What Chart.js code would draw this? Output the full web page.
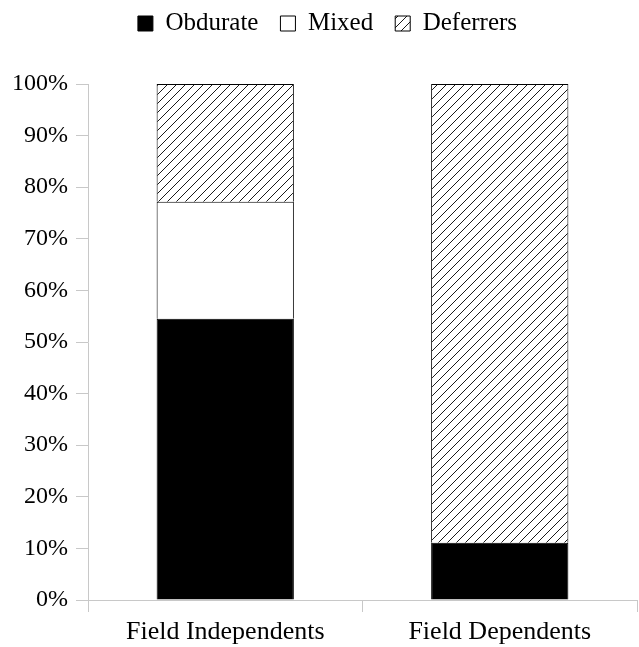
<!DOCTYPE html>
<html>
<head>
<meta charset="utf-8">
<script src="https://cdn.jsdelivr.net/npm/chart.js@4"></script>
<style>
  html, body { margin: 0; padding: 0; background: #fff; }
  #wrap { width: 639px; height: 647px; }
</style>
</head>
<body>
<div id="wrap"><canvas id="c" width="639" height="647"></canvas></div>
<script>
const categories = ["Field Independents", "Field Dependents"];
const obdurate = [54.5, 11.1];
const mixed = [22.7, 0];
const deferrers = [22.8, 88.9];
const seriesNames = ["Obdurate", "Mixed", "Deferrers"];

function hatch() {
  const s = 9;
  const c = document.createElement('canvas');
  c.width = s; c.height = s;
  const g = c.getContext('2d');
  g.fillStyle = '#fff';
  g.fillRect(0, 0, s, s);
  g.strokeStyle = '#000';
  g.lineWidth = 0.9;
  g.beginPath();
  g.moveTo(-1, s + 1); g.lineTo(s + 1, -1);
  g.moveTo(-1, 1); g.lineTo(1, -1);
  g.moveTo(s - 1, s + 1); g.lineTo(s + 1, s - 1);
  g.stroke();
  return g.createPattern(c, 'repeat');
}
const pat = hatch();
const FONT = "'Liberation Serif', 'Times New Roman', serif";

const legendLayout = {
  id: 'legendLayout',
  beforeInit(chart) {
    const lg = chart.legend;
    if (lg && !lg._patched) {
      const f = lg.fit;
      lg.fit = function () { f.call(this); this.height = 84; };
      lg._patched = true;
    }
  },
  afterLayout(chart) {
    const lg = chart.legend;
    if (lg) { lg.top -= 11; lg.bottom -= 11; lg.left += 9; lg.right += 9; }
  }
};

new Chart(document.getElementById('c'), {
  type: 'bar',
  data: {
    labels: categories,
    datasets: [
      { label: seriesNames[0], data: obdurate, backgroundColor: '#000', borderColor: '#000', borderWidth: 1 },
      { label: seriesNames[1], data: mixed, backgroundColor: '#fff', borderColor: '#000', borderWidth: 1 },
      { label: seriesNames[2], data: deferrers, backgroundColor: pat, borderColor: '#000', borderWidth: 1 }
    ]
  },
  options: {
    responsive: false,
    animation: false,
    devicePixelRatio: 1,
    layout: { padding: { left: 0, right: 2, top: 0, bottom: 0 } },
    datasets: { bar: { categoryPercentage: 1, barPercentage: 0.5 } },
    plugins: {
      legend: {
        position: 'top',
        labels: {
          font: { family: FONT, size: 25 },
          color: '#000',
          boxWidth: 15, boxHeight: 15,
          padding: 22,
          useBorderRadius: false
        }
      },
      tooltip: { enabled: false }
    },
    scales: {
      x: {
        stacked: true,
        border: { color: '#c8c8c8', width: 1 },
        grid: { display: true, drawOnChartArea: false, drawTicks: true, tickLength: 12, color: '#c8c8c8', offset: true },
        ticks: { font: { family: FONT, size: 26 }, color: '#000', padding: 5 },
        afterFit: (s) => { s.height = 47; }
      },
      y: {
        stacked: true,
        min: 0, max: 100,
        border: { color: '#c8c8c8', width: 1 },
        grid: { display: true, drawOnChartArea: false, drawTicks: true, tickLength: 12, color: '#c8c8c8' },
        ticks: { stepSize: 10, font: { family: FONT, size: 24 }, color: '#000', padding: 8, callback: (v) => v + '%' },
        afterFit: (s) => { s.width = 88; }
      }
    }
  },
  plugins: [legendLayout]
});
</script>
</body>
</html>
